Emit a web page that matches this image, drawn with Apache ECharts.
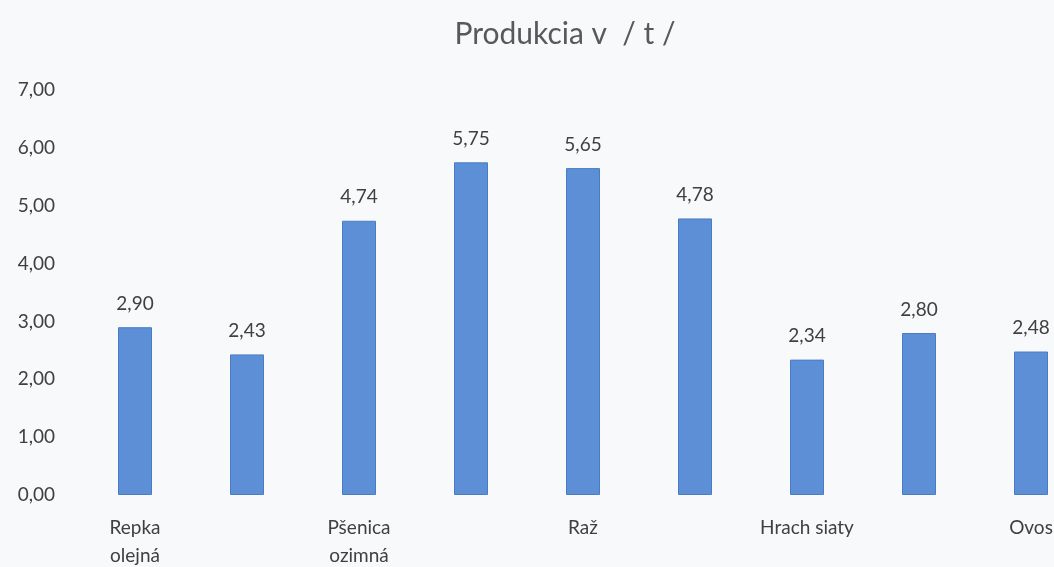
<!DOCTYPE html>
<html>
<head>
<meta charset="utf-8">
<script src="https://cdn.jsdelivr.net/npm/echarts@6/dist/echarts.min.js"></script>
<style>
  html, body { margin: 0; padding: 0; background: #f8f9fb; }
  #chart { width: 1054px; height: 567px; }
</style>
</head>
<body>
<div id="chart"></div>
<script>
// plodiny - len kazda druha ma popis na osi
const categories = ["Repka\nolejná", "", "Pšenica\nozimná", "", "Raž", "", "Hrach siaty", "", "Ovos"];
const values = [2.90, 2.43, 4.74, 5.75, 5.65, 4.78, 2.34, 2.80, 2.48];
const yTicks = [0, 1, 2, 3, 4, 5, 6, 7];

const fmt = v => Number(v).toFixed(2).replace(".", ",");
const font = "Lato, 'Open Sans', sans-serif";

const myChart = echarts.init(document.getElementById("chart"));
myChart.setOption({
    backgroundColor: "#f8f9fb",
    animation: false,
    title: {
        text: "Produkcia v  / t /",
        left: 560,
        textAlign: "center",
        top: 14,
        textStyle: { fontFamily: font, fontSize: 30, fontWeight: "normal", color: "#595959" }
    },
    grid: { left: 79, top: 90, width: 1008, bottom: 72, containLabel: false, outerBoundsMode: "none" },
    xAxis: {
        type: "category",
        data: categories,
        axisLine: { show: false },
        axisTick: { show: false },
        axisLabel: {
            interval: 0,
            margin: 19,
            fontFamily: font,
            fontSize: 19,
            color: "#404040",
            lineHeight: 28
        }
    },
    yAxis: {
        type: "value",
        min: yTicks[0],
        max: yTicks[yTicks.length - 1],
        interval: 1,
        splitLine: { show: false },
        axisLine: { show: false },
        axisTick: { show: false },
        axisLabel: {
            formatter: fmt,
            margin: 24,
            fontFamily: font,
            fontSize: 19,
            color: "#404040"
        }
    },
    series: [{
        type: "bar",
        data: values,
        barWidth: 34,
        itemStyle: { color: "#5d8fd7", borderColor: "#4a7cc6", borderWidth: 1 },
        label: {
            show: true,
            position: "top",
            distance: 14,
            formatter: p => fmt(p.value),
            fontFamily: font,
            fontSize: 19,
            color: "#404040"
        }
    }]
});
</script>
</body>
</html>
